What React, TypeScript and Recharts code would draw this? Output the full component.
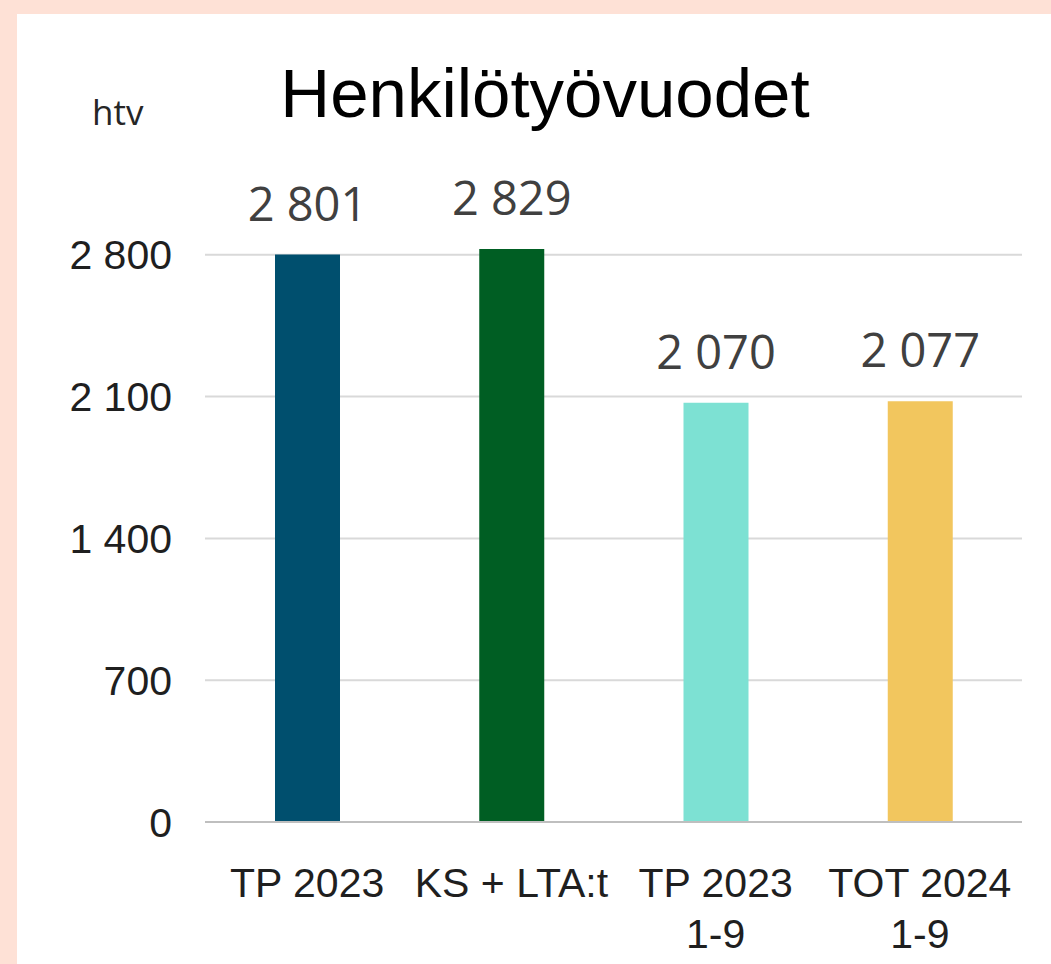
import React from "react";
import { BarChart, Bar, XAxis, YAxis, Cell, LabelList, CartesianGrid } from "recharts";

const categories: string[][] = [["TP 2023"], ["KS + LTA:t"], ["TP 2023", "1-9"], ["TOT 2024", "1-9"]];
const values: number[] = [2801, 2829, 2070, 2077];
const colors: string[] = ["#004F6E", "#005E23", "#7DE1D3", "#F2C65E"];
const yTicks: number[] = [0, 700, 1400, 2100, 2800];
const titleText = "Henkilötyövuodet";
const unitText = "htv";

const data = categories.map((c, i) => ({ name: c.join("\n"), value: values[i] }));

const fmt = (v: number) => String(v).replace(/\B(?=(\d{3})+(?!\d))/g, " ");

const XTick = (props: any) => {
  const { x, y, payload } = props;
  const lines = String(payload.value).split("\n");
  return (
    <g>
      {lines.map((l, i) => (
        <text
          key={i}
          x={x}
          y={y + 67 + i * 51}
          textAnchor="middle"
          fontFamily="'Liberation Sans', Arial, sans-serif"
          fontSize={41}
          fill="#1f1f1f"
        >
          {l}
        </text>
      ))}
    </g>
  );
};

const YTick = (props: any) => {
  const { x, y, payload } = props;
  return (
    <text
      x={x}
      y={y}
      dy="0.355em"
      textAnchor="end"
      fontFamily="'Liberation Sans', Arial, sans-serif"
      fontSize={41}
      fill="#1f1f1f"
    >
      {fmt(payload.value)}
    </text>
  );
};

const TopLabel = (props: any) => {
  const { x, y, width, value } = props;
  return (
    <text
      x={Number(x) + Number(width) / 2}
      y={Number(y) - 34}
      textAnchor="middle"
      fontFamily="'Open Sans', sans-serif"
      fontSize={47}
      fill="#404040"
    >
      {fmt(Number(value))}
    </text>
  );
};

export default function App() {
  return (
    <div style={{ position: "absolute", left: 0, top: 0, width: 1051, height: 964, background: "#FEE1D6", overflow: "hidden" }}>
      <div style={{ position: "absolute", left: 17, top: 14, width: 1034, height: 950, background: "#FFFFFF" }} />
      <svg style={{ position: "absolute", left: 0, top: 0 }} width={1051} height={964}>
        <text x={545} y={117} textAnchor="middle" fontFamily="'Liberation Sans', Arial, sans-serif" fontSize={69} fill="#000000">
          {titleText}
        </text>
        <text x={92} y={125} fontFamily="'Open Sans', sans-serif" fontSize={35} fill="#262626">
          {unitText}
        </text>
      </svg>
      <div style={{ position: "absolute", left: 0, top: 0 }}>
        <BarChart width={1051} height={964} data={data} margin={{ top: 113, right: 29, bottom: 0, left: 0 }}>
          <CartesianGrid vertical={false} stroke="#D9D9D9" strokeWidth={2} syncWithTicks={true} />
          <XAxis
            dataKey="name"
            axisLine={{ stroke: "#BFBFBF", strokeWidth: 2 }}
            tickLine={false}
            tick={<XTick />}
            interval={0}
            height={142}
          />
          <YAxis
            domain={[0, 3500]}
            ticks={yTicks}
            axisLine={false}
            tickLine={false}
            tickSize={0}
            tickMargin={33}
            width={205}
            tick={<YTick />}
            interval={0}
          />
          <Bar dataKey="value" barSize={65} isAnimationActive={false}>
            {data.map((_, i) => (
              <Cell key={i} fill={colors[i]} />
            ))}
            <LabelList dataKey="value" content={<TopLabel />} />
          </Bar>
        </BarChart>
      </div>
    </div>
  );
}
